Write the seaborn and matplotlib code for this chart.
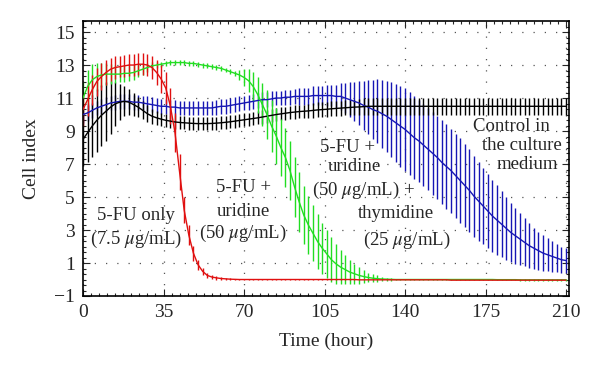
import numpy as np
import pandas as pd
import seaborn as sns
import matplotlib
matplotlib.use('Agg')
from matplotlib import pyplot as plt
from matplotlib.ticker import AutoMinorLocator

# sampling times (hour), one reading every 2 h
time = np.arange(0, 211, 2)

# control in the culture medium
control_mean = [8.5, 8.9, 9.3, 9.65, 9.95, 10.2, 10.45, 10.65, 10.75, 10.8,
                10.75, 10.6, 10.45, 10.25, 10.05, 9.9, 9.8, 9.72, 9.65, 9.6,
                9.55, 9.52, 9.5, 9.48, 9.46, 9.45, 9.45, 9.45, 9.46, 9.48,
                9.5, 9.53, 9.56, 9.6, 9.64, 9.68, 9.72, 9.76, 9.8, 9.85,
                9.9, 9.95, 10.0, 10.04, 10.08, 10.12, 10.15, 10.18, 10.2, 10.22,
                10.25, 10.28, 10.3, 10.32, 10.35, 10.37, 10.39, 10.41, 10.43, 10.45,
                10.46, 10.48, 10.5, 10.5, 10.5, 10.5, 10.5, 10.5, 10.5, 10.5,
                10.5, 10.5, 10.5, 10.5, 10.5, 10.5, 10.5, 10.5, 10.5, 10.5,
                10.5, 10.5, 10.5, 10.5, 10.5, 10.5, 10.5, 10.5, 10.5, 10.5,
                10.5, 10.5, 10.5, 10.5, 10.5, 10.5, 10.5, 10.5, 10.5, 10.5,
                10.5, 10.5, 10.5, 10.5, 10.5, 10.5]
control_err = [1.6, 1.8, 1.9, 1.9, 1.85, 1.8, 1.6, 1.35, 1.1, 0.9,
               0.8, 0.7, 0.6, 0.55, 0.5, 0.45, 0.42, 0.4, 0.4, 0.4,
               0.4, 0.4, 0.4, 0.4, 0.4, 0.4, 0.4, 0.4, 0.4, 0.4,
               0.4, 0.4, 0.4, 0.4, 0.4, 0.4, 0.4, 0.4, 0.4, 0.4,
               0.4, 0.4, 0.4, 0.4, 0.4, 0.4, 0.4, 0.4, 0.4, 0.4,
               0.45, 0.45, 0.45, 0.45, 0.45, 0.45, 0.45, 0.45, 0.45, 0.45,
               0.5, 0.5, 0.5, 0.5, 0.5, 0.5, 0.5, 0.5, 0.5, 0.5,
               0.5, 0.5, 0.5, 0.5, 0.5, 0.5, 0.5, 0.5, 0.5, 0.5,
               0.5, 0.5, 0.5, 0.5, 0.5, 0.5, 0.5, 0.5, 0.5, 0.5,
               0.5, 0.5, 0.5, 0.5, 0.5, 0.5, 0.5, 0.5, 0.5, 0.5,
               0.5, 0.5, 0.5, 0.5, 0.5, 0.5]

# 5-FU + uridine (50) + thymidine (25)
uth_mean = [10.0, 10.1, 10.25, 10.4, 10.5, 10.6, 10.7, 10.75, 10.8, 10.8,
            10.8, 10.75, 10.75, 10.7, 10.65, 10.6, 10.55, 10.5, 10.5, 10.45,
            10.45, 10.4, 10.4, 10.4, 10.4, 10.4, 10.4, 10.4, 10.4, 10.45,
            10.5, 10.5, 10.55, 10.6, 10.65, 10.7, 10.75, 10.8, 10.85, 10.9,
            10.9, 10.95, 11.0, 11.0, 11.05, 11.05, 11.1, 11.1, 11.1, 11.1,
            11.15, 11.15, 11.15, 11.15, 11.15, 11.1, 11.1, 11.0, 10.9, 10.8,
            10.7, 10.55, 10.45, 10.3, 10.2, 10.05, 9.9, 9.7, 9.5, 9.3,
            9.1, 8.85, 8.6, 8.4, 8.15, 7.9, 7.65, 7.4, 7.1, 6.85,
            6.6, 6.3, 6.0, 5.7, 5.4, 5.05, 4.75, 4.45, 4.15, 3.85,
            3.6, 3.35, 3.1, 2.85, 2.65, 2.45, 2.25, 2.05, 1.9, 1.75,
            1.6, 1.5, 1.4, 1.3, 1.2, 1.15]
uth_err = [0.5, 0.5, 0.45, 0.45, 0.45, 0.45, 0.45, 0.45, 0.45, 0.45,
           0.45, 0.45, 0.45, 0.45, 0.45, 0.45, 0.45, 0.45, 0.45, 0.45,
           0.45, 0.45, 0.45, 0.45, 0.45, 0.45, 0.45, 0.45, 0.45, 0.45,
           0.45, 0.45, 0.45, 0.45, 0.45, 0.45, 0.45, 0.45, 0.45, 0.45,
           0.45, 0.45, 0.45, 0.45, 0.45, 0.45, 0.45, 0.5, 0.5, 0.5,
           0.55, 0.6, 0.6, 0.65, 0.65, 0.7, 0.8, 0.9, 1.05, 1.2,
           1.35, 1.5, 1.65, 1.8, 1.95, 2.05, 2.15, 2.25, 2.35, 2.45,
           2.5, 2.5, 2.5, 2.5, 2.5, 2.5, 2.5, 2.5, 2.55, 2.55,
           2.55, 2.55, 2.55, 2.5, 2.5, 2.45, 2.4, 2.3, 2.25, 2.2,
           2.1, 2.0, 1.9, 1.8, 1.7, 1.6, 1.45, 1.35, 1.25, 1.15,
           1.1, 1.0, 0.95, 0.85, 0.8, 0.75]

# 5-FU + uridine (50)
uri_mean = [11.0, 11.7, 12.1, 12.3, 12.4, 12.45, 12.45, 12.45, 12.45, 12.5,
            12.5, 12.55, 12.65, 12.75, 12.85, 12.95, 13.0, 13.05, 13.1, 13.15,
            13.15, 13.15, 13.15, 13.1, 13.1, 13.05, 13.0, 12.95, 12.9, 12.85,
            12.8, 12.7, 12.6, 12.5, 12.4, 12.25, 12.05, 11.7, 11.2, 10.6,
            10.0, 9.3, 8.7, 8.0, 7.4, 6.6, 5.6, 4.7, 3.9, 3.3,
            2.8, 2.3, 1.9, 1.55, 1.2, 0.95, 0.75, 0.6, 0.45, 0.35,
            0.25, 0.18, 0.12, 0.08, 0.05, 0.03, 0.02, 0.01, 0.0, 0.0,
            0.0, 0.0, 0.0, 0.0, 0.0, 0.0, 0.0, 0.0, 0.0, 0.0,
            0.0, 0.0, 0.0, 0.0, 0.0, 0.0, 0.0, 0.0, 0.0, 0.0,
            -0.01, -0.01, -0.01, -0.01, -0.01, -0.02, -0.02, -0.02, -0.02, -0.02,
            -0.02, -0.02, -0.02, -0.02, -0.02, -0.02]
uri_err = [1.0, 1.0, 0.95, 0.85, 0.75, 0.65, 0.6, 0.55, 0.5, 0.5,
           0.45, 0.45, 0.4, 0.35, 0.3, 0.25, 0.2, 0.15, 0.15, 0.15,
           0.15, 0.15, 0.15, 0.15, 0.15, 0.15, 0.15, 0.15, 0.15, 0.15,
           0.15, 0.15, 0.15, 0.15, 0.3, 0.5, 0.7, 0.9, 1.1, 1.3,
           1.5, 1.6, 1.7, 1.75, 1.8, 1.8, 1.8, 1.8, 1.75, 1.75,
           1.7, 1.65, 1.55, 1.45, 1.35, 1.2, 1.05, 0.9, 0.75, 0.6,
           0.5, 0.4, 0.3, 0.25, 0.2, 0.15, 0.1, 0.08, 0.06, 0.05,
           0.05, 0.05, 0.05, 0.05, 0.05, 0.05, 0.05, 0.05, 0.05, 0.05,
           0.05, 0.05, 0.05, 0.05, 0.05, 0.05, 0.05, 0.05, 0.05, 0.05,
           0.05, 0.05, 0.05, 0.05, 0.05, 0.05, 0.05, 0.05, 0.05, 0.05,
           0.05, 0.05, 0.05, 0.05, 0.05, 0.05]

# 5-FU only (7.5)
fu_mean = [10.3, 10.9, 11.5, 12.0, 12.3, 12.55, 12.75, 12.85, 12.9, 12.95,
           13.0, 13.0, 13.05, 13.05, 13.0, 12.85, 12.55, 12.15, 11.6, 10.5,
           8.9, 6.5, 4.2, 2.7, 1.6, 0.9, 0.5, 0.25, 0.15, 0.1,
           0.06, 0.04, 0.02, 0.01, 0.0, 0.0, 0.0, 0.0, 0.0, 0.0,
           0.0, 0.0, 0.0, 0.0, 0.0, 0.0, 0.0, 0.0, 0.0, 0.0,
           0.0, 0.0, 0.0, 0.0, 0.0, 0.0, 0.0, 0.0, 0.0, 0.0,
           -0.02, -0.02, -0.02, -0.02, -0.02, -0.02, -0.02, -0.02, -0.02, -0.02,
           -0.02, -0.02, -0.02, -0.02, -0.02, -0.02, -0.02, -0.02, -0.02, -0.02,
           -0.04, -0.04, -0.04, -0.04, -0.04, -0.04, -0.04, -0.04, -0.04, -0.04,
           -0.04, -0.04, -0.04, -0.04, -0.04, -0.04, -0.04, -0.04, -0.04, -0.04,
           -0.04, -0.04, -0.04, -0.04, -0.04, -0.04]
fu_err = [1.0, 1.0, 0.9, 0.85, 0.8, 0.75, 0.7, 0.7, 0.65, 0.65,
          0.65, 0.65, 0.65, 0.65, 0.65, 0.7, 0.75, 0.85, 0.95, 1.1,
          1.2, 1.1, 0.8, 0.6, 0.45, 0.3, 0.2, 0.15, 0.12, 0.1,
          0.08, 0.06, 0.05, 0.04, 0.03, 0.03, 0.02, 0.02, 0.02, 0.02,
          0.02, 0.02, 0.02, 0.02, 0.02, 0.02, 0.02, 0.02, 0.02, 0.02,
          0.02, 0.02, 0.02, 0.02, 0.02, 0.02, 0.02, 0.02, 0.02, 0.02,
          0.02, 0.02, 0.02, 0.02, 0.02, 0.02, 0.02, 0.02, 0.02, 0.02,
          0.02, 0.02, 0.02, 0.02, 0.02, 0.02, 0.02, 0.02, 0.02, 0.02,
          0.02, 0.02, 0.02, 0.02, 0.02, 0.02, 0.02, 0.02, 0.02, 0.02,
          0.02, 0.02, 0.02, 0.02, 0.02, 0.02, 0.02, 0.02, 0.02, 0.02,
          0.02, 0.02, 0.02, 0.02, 0.02, 0.02]

groups = ['uth', 'control', 'uri', 'fu']
colors = {'uth': '#1616b4', 'control': '#000000', 'uri': '#22dd22', 'fu': '#e01010'}
means = {'uth': uth_mean, 'control': control_mean, 'uri': uri_mean, 'fu': fu_mean}
errs = {'uth': uth_err, 'control': control_err, 'uri': uri_err, 'fu': fu_err}

frames = []
for g in groups:
    frames.append(pd.DataFrame({'time': time, 'cell_index': means[g], 'err': errs[g], 'group': g}))
data = pd.concat(frames, ignore_index=True)

sns.set_style('ticks')
plt.rcParams['font.family'] = ['Liberation Serif', 'DejaVu Serif']
plt.rcParams['mathtext.fontset'] = 'stix'

fig = plt.figure(figsize=(6, 3.72), dpi=100)
ax = fig.add_axes([83 / 600, 1 - 296 / 372, (569 - 83) / 600, (296 - 21) / 372])

for i, g in enumerate(groups):
    sub = data[data['group'] == g]
    ax.errorbar(sub['time'], sub['cell_index'], yerr=sub['err'], fmt='none',
                ecolor=colors[g], elinewidth=1.0, capsize=0, zorder=1 + i * 0.1)

sns.lineplot(data=data, x='time', y='cell_index', hue='group', hue_order=groups,
             palette=colors, legend=False, errorbar=None, linewidth=1.0, ax=ax, zorder=3)

ax.set_xlim(0, 211.3)
ax.set_ylim(-1, 15.67)
ax.set_xticks([0, 35, 70, 105, 140, 175, 210])
ax.set_yticks([-1, 1, 3, 5, 7, 9, 11, 13, 15])
ax.xaxis.set_minor_locator(AutoMinorLocator(10))
ax.yaxis.set_minor_locator(AutoMinorLocator(6))
ax.tick_params(which='both', direction='in', top=True, right=True, labelsize=14, width=0.8)
ax.tick_params(which='major', length=5, pad=6)
ax.tick_params(which='minor', length=2.5)
ax.grid(True, which='major', linestyle=(0, (1, 8)), color='#555555', linewidth=0.9)
for s in ax.spines.values():
    s.set_linewidth(1.2)
    s.set_color('black')

ax.set_xlabel('Time (hour)', fontsize=14, labelpad=8)
ax.set_ylabel('Cell index', fontsize=14, labelpad=10)

fs = 13.5
labels = [
    ('5-FU only', 23.0, 3.85), ('(7.5 $\\mu$g/mL)', 23.0, 2.45),
    ('5-FU +', 69.6, 5.55), ('uridine', 69.6, 4.1), ('(50 $\\mu$g/mL)', 69.6, 2.8),
    ('5-FU +', 115.2, 8.03), ('uridine', 117.8, 6.82), ('(50 $\\mu$g/mL) +', 121.8, 5.42),
    ('thymidine', 136.0, 4.03), ('(25 $\\mu$g/mL)', 140.7, 2.39),
    ('Control in', 186.1, 9.3), ('the culture', 190.9, 8.1), ('medium', 193.0, 7.0),
]
for txt, x, y in labels:
    ax.text(x, y, txt, ha='center', va='center', fontsize=fs, zorder=5)

fig.savefig('out.png', dpi=100)
